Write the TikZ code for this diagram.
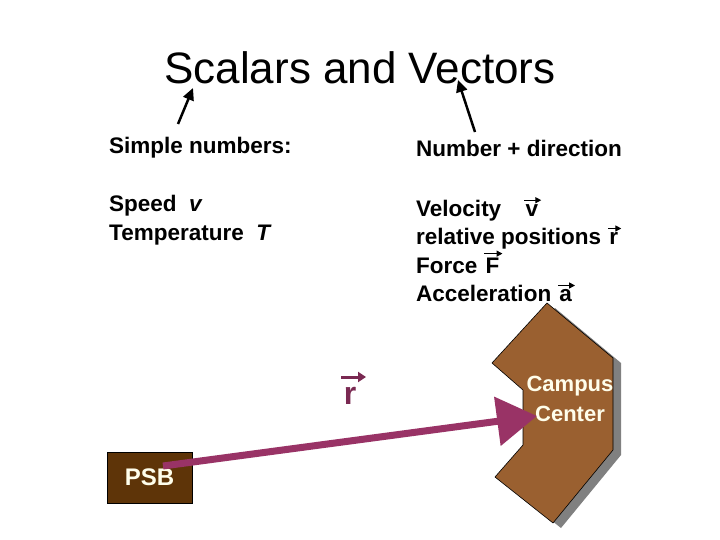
\documentclass[tikz,border=0pt]{standalone}
\usepackage{fontspec}
\setmainfont{Liberation Sans}
\usetikzlibrary{arrows.meta}
\definecolor{vecc}{HTML}{993366}
\definecolor{brn}{HTML}{9A6030}
\definecolor{dbrn}{HTML}{5E3408}
\newcommand{\va}[1]{\tikz[baseline=(t.base)]{\node[inner sep=0pt](t){#1}; \draw[line width=1.3pt,-{Triangle[length=6pt,width=6pt]}] ([yshift=4pt,xshift=-1pt]t.north west)--([yshift=4pt,xshift=3pt]t.north east);}}
\tikzset{lst/.style={anchor=north west,align=left,inner sep=0pt,font=\fontsize{22.5}{28.5}\selectfont\bfseries},
 tarr/.style={line width=2.5pt,-{Triangle[length=12pt,width=11pt]}}}
\begin{document}
\begin{tikzpicture}[x=1pt,y=-1pt]
\useasboundingbox[fill=white] (0,0) rectangle (720,540);
\node (title) at (360,68) {\fontsize{44}{48}\selectfont Scalars and Vectors};
\coordinate (a1s) at (178,124); \coordinate (a1e) at (193,88);
\coordinate (a2s) at (475,132); \coordinate (a2e) at (458,80);
\draw[tarr] (a1s) -- (a1e);
\draw[tarr] (a2s) -- (a2e);
\node[lst] (sn) at (109,137) {Simple numbers:};
\node[lst] (nd) at (416,140) {Number + direction};
\node[lst] (sc) at (109,195) {Speed\ \ \textit{v}\\Temperature\ \ \textit{T}};
\node[lst] (vc) at (416,197) {Velocity\quad\va{v}\\relative positions\ \va{r}\\Force\ \va{F}\\Acceleration\ \va{a}};
\fill[gray] (555,308) -- (621,363) -- (621,455) -- (561,528) -- (503,482) -- (531,450) -- (531,395) -- (500,368) -- cycle;
\filldraw[fill=brn,draw=black,line width=0.6pt] (547,303) -- (613,358) -- (613,450) -- (553,523) -- (495,477) -- (523,445) -- (523,390) -- (492,363) -- cycle;
\node[text=white!92!yellow,align=center,font=\fontsize{22}{30}\selectfont\bfseries] (cc) at (570,399) {Campus\\Center};
\node[fill=dbrn,draw=black,minimum width=85pt,minimum height=51pt,text=white!92!yellow,font=\fontsize{24}{26}\selectfont\bfseries] (psb) at (149.5,477.5) {PSB};
\coordinate (rs) at (163,466);
\coordinate (re) at (537,416);
\draw[vecc,line width=7pt,-{Triangle[length=40pt,width=48pt]}] (rs) -- (re);
\node[text=vecc!80!black,font=\fontsize{32}{32}\selectfont\bfseries] (rl) at (350,396) {r};
\draw[vecc!80!black,line width=3pt,-{Triangle[length=8pt,width=10pt]}] (341,377) -- (366,377);
\end{tikzpicture}
\end{document}
